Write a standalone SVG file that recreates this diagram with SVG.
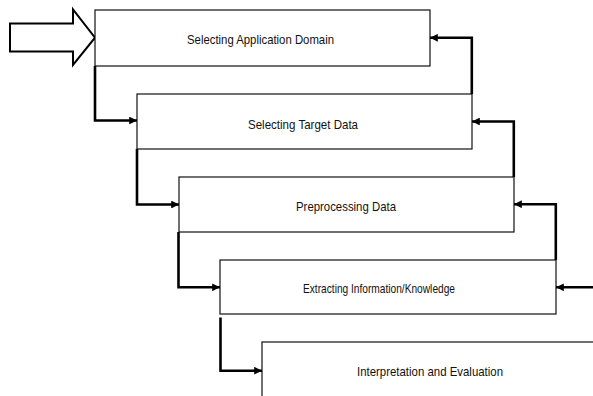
<svg xmlns="http://www.w3.org/2000/svg" width="593" height="396" viewBox="0 0 593 396">
  <defs>
    <marker id="head" viewBox="0 0 10 10" refX="10" refY="5" markerWidth="3" markerHeight="3" orient="auto" markerUnits="strokeWidth">
      <path d="M0,0 L10,5 L0,10 Z" fill="#000"/>
    </marker>
    <style>
      .box { fill: #fff; stroke: #111; stroke-width: 1.2; }
      .label { font-family: "Liberation Sans", Arial, sans-serif; font-size: 13.5px; fill: #111; }
      .flow { fill: none; stroke: #000; stroke-width: 2.6; marker-end: url(#head); }
    </style>
  </defs>
  <rect width="593" height="396" fill="#fff"/>

  <!-- entry arrow -->
  <path d="M10,23.5 H73 V9.5 L95,37.7 L73,65 V51.5 H10 Z" fill="#fff" stroke="#000" stroke-width="2"/>

  <g id="step1">
    <rect class="box" x="95" y="10" width="335" height="56"/>
    <text class="label" x="187" y="43.5" textLength="147" lengthAdjust="spacingAndGlyphs">Selecting Application Domain</text>
  </g>
  <g id="step2">
    <rect class="box" x="137" y="94" width="335" height="55"/>
    <text class="label" x="248" y="128.5" textLength="110" lengthAdjust="spacingAndGlyphs">Selecting Target Data</text>
  </g>
  <g id="step3">
    <rect class="box" x="179" y="177" width="335" height="55"/>
    <text class="label" x="296" y="210.5" textLength="100" lengthAdjust="spacingAndGlyphs">Preprocessing Data</text>
  </g>
  <g id="step4">
    <rect class="box" x="220" y="260" width="336" height="54"/>
    <text class="label" x="303" y="292.5" textLength="152" lengthAdjust="spacingAndGlyphs">Extracting Information/Knowledge</text>
  </g>
  <g id="step5">
    <rect class="box" x="262" y="342" width="360" height="80"/>
    <text class="label" x="357" y="375.5" textLength="146" lengthAdjust="spacingAndGlyphs">Interpretation and Evaluation</text>
  </g>

  <g id="connectors">
    <!-- forward steps -->
    <path class="flow" d="M95,66 V120.5 H137"/>
    <path class="flow" d="M137,149 V204.5 H179"/>
    <path class="flow" d="M178.5,232 V287.3 H220"/>
    <path class="flow" d="M220.5,317.5 V370.7 H262"/>
    <!-- feedback loops -->
    <path class="flow" d="M471.8,94 V37.8 H430"/>
    <path class="flow" d="M513.8,177 V121.5 H472"/>
    <path class="flow" d="M555.8,260 V204.2 H514"/>
    <path class="flow" d="M593,287.3 H556"/>
  </g>
</svg>
